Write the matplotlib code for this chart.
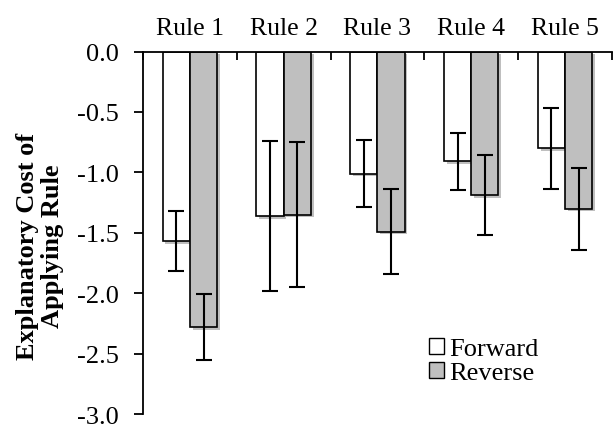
import numpy as np
import matplotlib
matplotlib.use("Agg")
import matplotlib.pyplot as plt
import matplotlib.patheffects as pe
from matplotlib.patches import Patch

rules = ['Rule 1', 'Rule 2', 'Rule 3', 'Rule 4', 'Rule 5']
forward = [-1.57, -1.36, -1.01, -0.91, -0.80]
forward_err = [0.25, 0.62, 0.28, 0.235, 0.335]
reverse = [-2.28, -1.35, -1.49, -1.19, -1.30]
reverse_err = [0.27, 0.60, 0.355, 0.33, 0.34]
yticks = [0.0, -0.5, -1.0, -1.5, -2.0, -2.5, -3.0]

plt.rcParams['font.family'] = ['Liberation Serif', 'DejaVu Serif']
plt.rcParams['axes.unicode_minus'] = False

fig = plt.figure(figsize=(6.13, 4.27), dpi=100)
ax = fig.add_axes([0.2333, 0.028, 0.765, 0.849])

x = np.arange(len(rules))
w = 0.29
shadow = [pe.SimplePatchShadow(offset=(2, -2), alpha=0.25, shadow_rgbFace='k'), pe.Normal()]

b1 = ax.bar(x - w / 2, forward, w, color='white', edgecolor='black', linewidth=1.2, zorder=2)
b2 = ax.bar(x + w / 2, reverse, w, color='#bfbfbf', edgecolor='black', linewidth=1.2, zorder=2)
for b in list(b1) + list(b2):
    b.set_path_effects(shadow)

ekw = dict(fmt='none', ecolor='black', elinewidth=1.5, capsize=6, capthick=1.5, zorder=3)
ax.errorbar(x - w / 2, forward, yerr=forward_err, **ekw)
ax.errorbar(x + w / 2, reverse, yerr=reverse_err, **ekw)

ax.set_xlim(-0.5, len(rules) - 0.5)
ax.set_ylim(-3.0, 0.0)
ax.set_yticks(yticks)
ax.set_yticklabels([f'{v:.1f}' for v in yticks], fontsize=19)
ax.tick_params(axis='y', direction='out', length=6.5, width=1.3, pad=11)

ax.xaxis.tick_top()
ax.set_xticks(np.arange(len(rules) + 1) - 0.5)
ax.set_xticklabels([])
ax.tick_params(axis='x', which='major', direction='in', length=6, width=1.3)
ax.set_xticks(x, minor=True)
ax.set_xticklabels(rules, minor=True, fontsize=18.5)
ax.tick_params(axis='x', which='minor', length=0, pad=9)

for s in ['right', 'bottom']:
    ax.spines[s].set_visible(False)
ax.spines['left'].set_linewidth(1.3)
ax.spines['top'].set_linewidth(1.3)

fig.text(40 / 613, 1 - 246 / 427, 'Explanatory Cost of\nApplying Rule', rotation=90,
         ha='center', va='center', fontsize=19, fontweight='bold', linespacing=1.12)

handles = [Patch(facecolor='white', edgecolor='black'), Patch(facecolor='#bfbfbf', edgecolor='black')]
ax.legend(handles, ['Forward', 'Reverse'], loc='upper left', bbox_to_anchor=(416 / 613, 1 - 326 / 427),
          bbox_transform=fig.transFigure, frameon=False, fontsize=19,
          handlelength=0.55, handleheight=0.55, handletextpad=0.2, labelspacing=0.05, borderpad=0)

fig.savefig('out.png', dpi=100)
